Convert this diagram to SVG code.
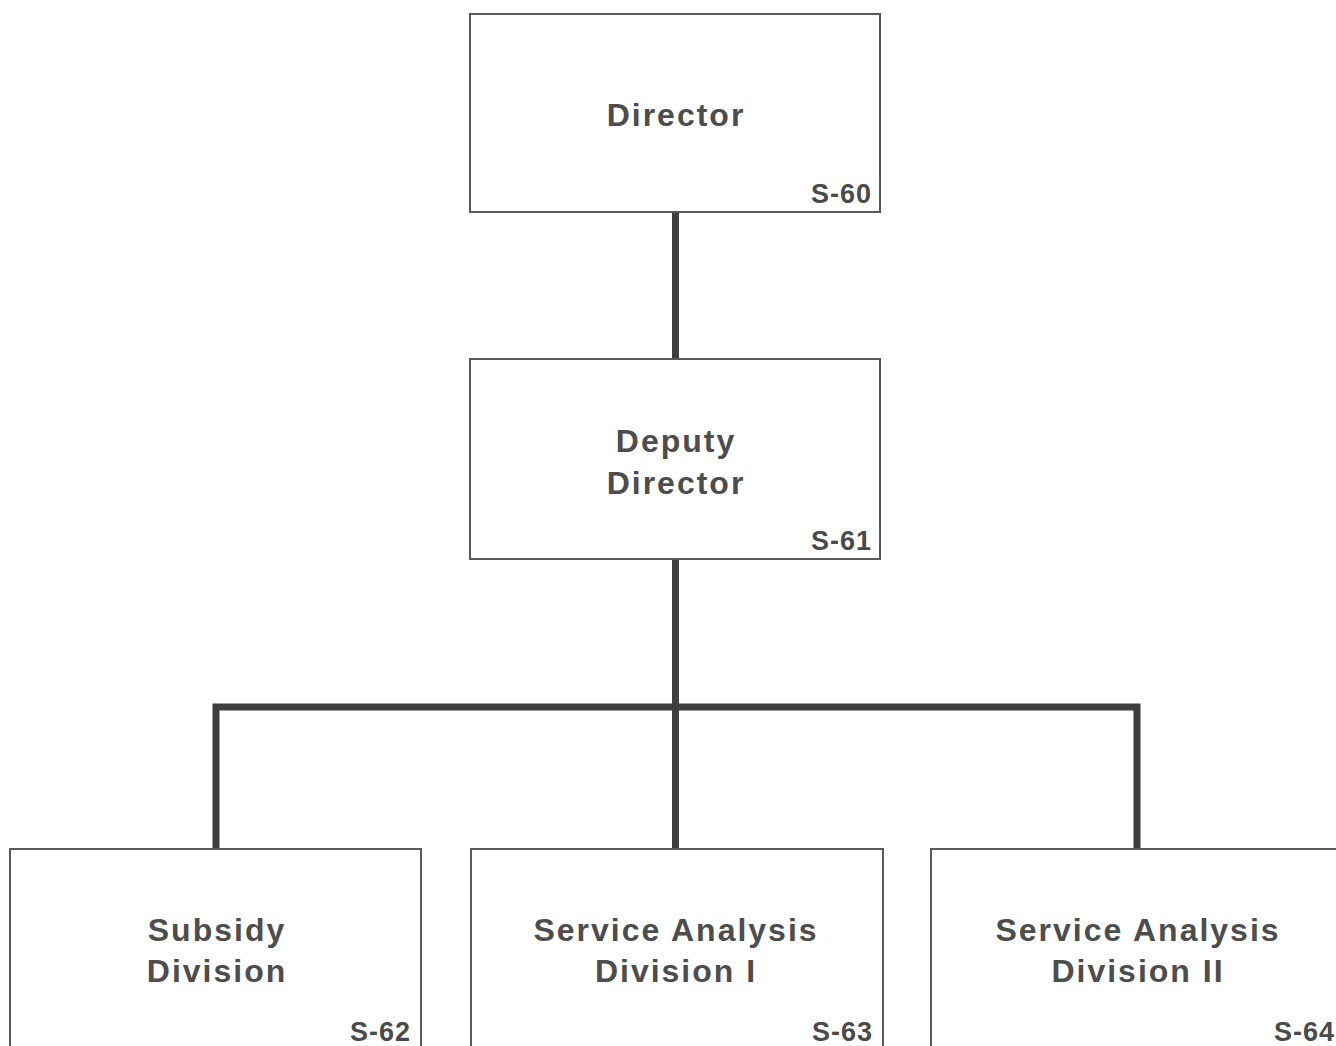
<svg xmlns="http://www.w3.org/2000/svg" width="1336" height="1046" viewBox="0 0 1336 1046">
<style>
.box{fill:#fff;stroke:#5a5a5a;stroke-width:2}
.lbl{font-family:"Liberation Sans",Arial,sans-serif;font-weight:bold;font-size:32px;letter-spacing:2px;fill:#4d4d4d;text-anchor:middle}
.code{font-family:"Liberation Sans",Arial,sans-serif;font-weight:bold;font-size:27px;letter-spacing:1px;fill:#4a4a4a;text-anchor:end}
.conn{fill:none;stroke:#3e3e3e;stroke-width:7;stroke-linejoin:miter}
</style>
<rect width="1336" height="1046" fill="#fff"/>
<g id="connectors">
<path class="conn" d="M675.5 212 V359"/>
<path class="conn" d="M675.5 559 V849"/>
<path class="conn" d="M216 849 V707 H1137 V849"/>
</g>
<g id="director">
<rect class="box" x="470" y="14" width="410" height="198"/>
<text class="lbl" x="676" y="126">Director</text>
<text class="code" x="872" y="203">S-60</text>
</g>
<g id="deputy">
<rect class="box" x="470" y="359" width="410" height="200"/>
<text class="lbl" x="676" y="452">Deputy</text>
<text class="lbl" x="676" y="494">Director</text>
<text class="code" x="872" y="550">S-61</text>
</g>
<g id="subsidy">
<rect class="box" x="10" y="849" width="411" height="200"/>
<text class="lbl" x="217" y="941">Subsidy</text>
<text class="lbl" x="217" y="982">Division</text>
<text class="code" x="411" y="1041">S-62</text>
</g>
<g id="sa1">
<rect class="box" x="471" y="849" width="412" height="200"/>
<text class="lbl" x="676" y="941">Service Analysis</text>
<text class="lbl" x="676" y="982">Division I</text>
<text class="code" x="873" y="1041">S-63</text>
</g>
<g id="sa2">
<rect class="box" x="931" y="849" width="410" height="200"/>
<text class="lbl" x="1138" y="941">Service Analysis</text>
<text class="lbl" x="1138" y="982">Division II</text>
<text class="code" x="1335" y="1041">S-64</text>
</g>
</svg>
